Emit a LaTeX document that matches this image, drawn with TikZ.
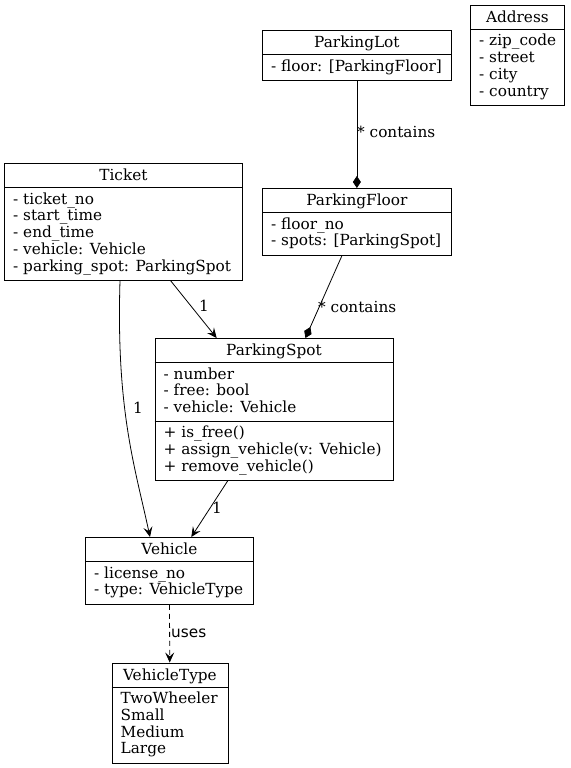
\documentclass[tikz,border=0pt]{standalone}
\usepackage{fontspec}
\setmainfont{DejaVu Serif}
\newfontfamily\labelsans{DejaVu Sans}
\usetikzlibrary{arrows.meta,calc}

% attribute / operation lines of a class box: #1 box, #2 offset of first baseline, #3 lines
\newcommand\classmembers[3]{%
  \foreach \t [count=\i from 0] in {#3}
    \node[member] (#1-m#2-\i) at ($(#1.north west)+(9,#2+16.75*\i)$) {\t};}
% class name centred in the top compartment, with the rule below it
\newcommand\classhead[2]{%
  \node[classname] (#1-name) at ($(#1.north)+(0,17.5)$) {#2};
  \draw[link] ($(#1.north west)+(0,24.5)$) -- ($(#1.north east)+(0,24.5)$);}

\begin{document}
\begin{tikzpicture}[x=1pt,y=-1pt,
  every node/.style={font=\fontsize{15.3}{17}\selectfont, inner sep=0pt},
  classbox/.style={draw, line width=0.8pt, anchor=north west},
  classname/.style={anchor=base},
  member/.style={anchor=base west},
  edgelabel/.style={anchor=base west},
  link/.style={line width=0.8pt},
  assoc/.style={link, -{Stealth[length=10pt,width=9pt,inset=4pt]}},
  compose/.style={link, -{Diamond[length=12pt,width=8pt]}},
]
\useasboundingbox (0,0) rectangle (570,768);

% class boxes
\node[classbox, minimum width=94pt,  minimum height=100pt] (address) at (470,5)   {};
\node[classbox, minimum width=189pt, minimum height=50pt]  (lot)     at (262,30)  {};
\node[classbox, minimum width=189pt, minimum height=67pt]  (floor)   at (262,188) {};
\node[classbox, minimum width=238pt, minimum height=117pt] (ticket)  at (4,163)   {};
\node[classbox, minimum width=238pt, minimum height=142pt] (spot)    at (154.5,338) {};
\node[classbox, minimum width=168pt, minimum height=67pt]  (vehicle) at (85,537)  {};
\node[classbox, minimum width=116pt, minimum height=100pt] (vtype)   at (111.5,662.5) {};

\classhead{address}{Address}
\classmembers{address}{41}{- zip\_code, - street, - city, - country}

\classhead{lot}{ParkingLot}
\classmembers{lot}{41}{- floor: [ParkingFloor]}

\classhead{floor}{ParkingFloor}
\classmembers{floor}{41}{- floor\_no, - spots: [ParkingSpot]}

\classhead{ticket}{Ticket}
\classmembers{ticket}{41}{- ticket\_no, - start\_time, - end\_time, - vehicle: Vehicle, - parking\_spot: ParkingSpot}

\classhead{spot}{ParkingSpot}
\classmembers{spot}{41}{- number, - free: bool, - vehicle: Vehicle}
\draw[link] ($(spot.north west)+(0,83)$) -- ($(spot.north east)+(0,83)$);
\classmembers{spot}{99.5}{+ is\_free(), + assign\_vehicle(v: Vehicle), + remove\_vehicle()}

\classhead{vehicle}{Vehicle}
\classmembers{vehicle}{41}{- license\_no, - type: VehicleType}

\classhead{vtype}{VehicleType}
\classmembers{vtype}{41}{TwoWheeler, Small, Medium, Large}

% relations
\draw[compose] (lot) -- (floor);
\draw[compose] (floor) -- (spot);
\draw[assoc] (ticket) -- (spot);
\draw[assoc] (spot) -- (vehicle);
\draw[assoc] ($(ticket.south west)+(116,0)$)
  .. controls ($(ticket.south west)+(112,130)$) and ($(vehicle.north west)+(50,-70)$)
  .. ($(vehicle.north west)+(65,0)$);
\draw[assoc, dash pattern=on 5pt off 4pt] (vehicle) -- (vtype);

% relation labels
\node[edgelabel] (l-lot)   at (357,137) {* contains};
\node[edgelabel] (l-floor) at (318,312) {* contains};
\node[edgelabel] (l-tspot) at (199,311.5) {1};
\node[edgelabel] (l-tveh)  at (133,413.5) {1};
\node[edgelabel] (l-sveh)  at (212,513.5) {1};
\node[edgelabel, font=\labelsans\fontsize{15.3}{17}\selectfont] (l-uses) at (171,637) {uses};
\end{tikzpicture}
\end{document}
